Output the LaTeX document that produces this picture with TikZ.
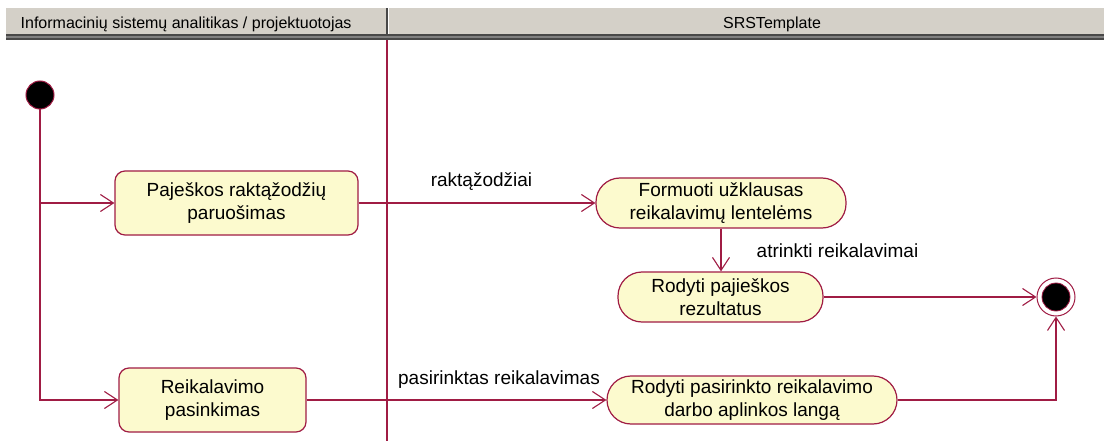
\documentclass[tikz,border=0pt]{standalone}
\usepackage{fontspec}
\setmainfont{Liberation Sans}
\usetikzlibrary{arrows.meta}
\definecolor{umlline}{RGB}{160,28,68}
\definecolor{umlfill}{RGB}{252,250,206}
\definecolor{hdrgray}{RGB}{212,208,200}
\definecolor{hdrdark}{RGB}{72,72,72}
\definecolor{hdrmid}{RGB}{128,128,128}
\tikzset{
  actbox/.style={draw=umlline, fill=umlfill, line width=1.2pt, rounded corners=10pt,
    align=center, inner sep=0pt, font=\fontsize{19}{23}\selectfont},
  stadium/.style={draw=umlline, fill=umlfill, line width=1.2pt, rounded corners=24pt,
    align=center, inner sep=0pt, font=\fontsize{19}{23}\selectfont},
  flow/.style={draw=umlline, line width=1.2pt,
    -{Straight Barb[length=13pt,width=17pt,line width=1.1pt]}},
  flowlabel/.style={anchor=base, inner sep=0pt, font=\fontsize{19}{23}\selectfont},
  hdrtext/.style={anchor=base, inner sep=0pt, font=\fontsize{16}{18}\selectfont}
}
\begin{document}
\begin{tikzpicture}[x=1pt,y=-1pt]
\useasboundingbox (0,0) rectangle (1104,441);
\fill[white] (0,0) rectangle (1104,441);

% swimlane header bar
\fill[hdrgray] (6,8) rectangle (1104,34);
\fill[hdrdark] (6,34) rectangle (1104,36);
\fill[hdrmid] (6,36) rectangle (1104,38);
\fill[hdrdark] (6,38) rectangle (1104,40);
\fill[hdrdark] (385.5,8) rectangle (387.5,34);
\fill[white] (387.5,8) rectangle (389,34);
\node[hdrtext, anchor=base west] (laneA) at (20.5,29) {Informacinių sistemų analitikas / projektuotojas};
\node[hdrtext] (laneB) at (772,29) {SRSTemplate};

% swimlane separator
\draw[umlline, line width=1.2pt] (387,40) -- (387,441);

% initial and final states
\node[circle, draw=umlline, fill=black, line width=1pt, minimum size=28pt, inner sep=0pt] (init) at (40,95) {};
\node[circle, draw=umlline, fill=white, line width=1pt, minimum size=38pt, inner sep=0pt] (fin) at (1056,297) {};
\node[circle, draw=umlline, fill=black, line width=0.8pt, minimum size=28pt, inner sep=0pt] (finin) at (1056,297) {};

% activities
\node[actbox, minimum width=243pt, minimum height=64pt] (a1) at (236.5,203) {Paješkos raktąžodžių\\paruošimas};
\node[actbox, minimum width=187pt, minimum height=64pt] (a2) at (212.5,400) {Reikalavimo\\pasinkimas};
\node[stadium, minimum width=250pt, minimum height=50pt] (b1) at (721,203) {Formuoti užklausas\\reikalavimų lentelėms};
\node[stadium, minimum width=205pt, minimum height=50pt] (b2) at (720.5,297) {Rodyti pajieškos\\rezultatus};
\node[stadium, minimum width=290pt, minimum height=48pt] (b3) at (752,400) {Rodyti pasirinkto reikalavimo\\darbo aplinkos langą};

% transitions
\coordinate (fork) at (init.south |- a1.west);
\draw[flow] (init.south) |- (a2.west);
\draw[flow] (fork) -- (a1.west);
\draw[flow] (a1.east) -- (b1.west);
\draw[flow] (b1.south) -- (b1.south |- b2.north);
\draw[flow] (b2.east) -- (fin.west);
\draw[flow] (a2.east) -- (b3.west);
\draw[flow] (b3.east) -| (fin.south);

% transition labels
\node[flowlabel] (l1) at (481.5,187) {raktąžodžiai};
\node[flowlabel] (l2) at (837.5,257) {atrinkti reikalavimai};
\node[flowlabel] (l3) at (499,384) {pasirinktas reikalavimas};
\end{tikzpicture}
\end{document}
